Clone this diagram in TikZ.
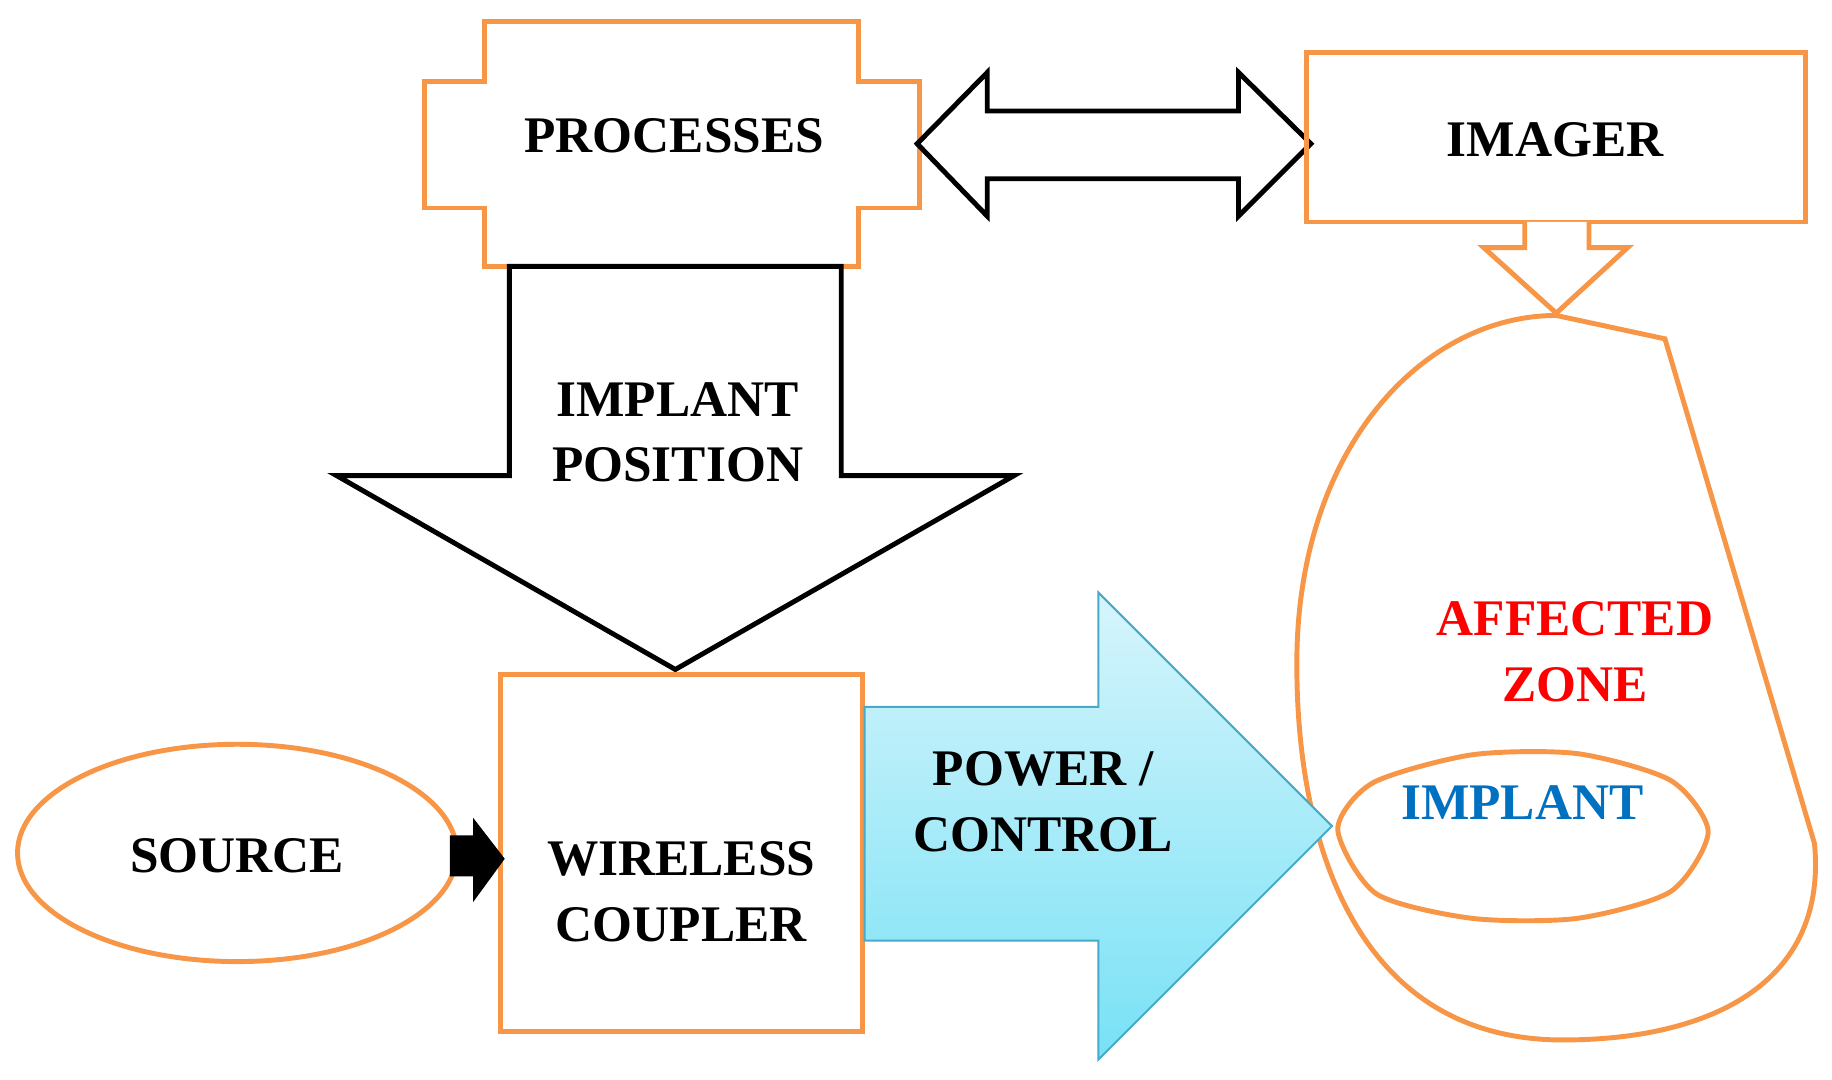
\documentclass[tikz,border=0pt]{standalone}
\usepackage{fontspec}
\setmainfont{Liberation Serif}
\begin{document}
\definecolor{org}{RGB}{247,150,70}
\definecolor{cyanA}{RGB}{215,245,252}
\definecolor{cyanB}{RGB}{120,225,245}
\begin{tikzpicture}[x=0.02cm,y=-0.02cm,
  ob/.style={draw=org,line width=2.4pt,line join=miter},
  bk/.style={draw=black,line width=2.4pt,fill=white,line join=miter},
  lbl/.style={font=\fontsize{25}{30}\selectfont\bfseries,align=center,inner sep=0pt}]
\useasboundingbox (0,0) rectangle (1568,924);
% processes
\draw[ob] (415,18)--(735,18)--(735,70)--(787,70)--(787,178)--(735,178)--(735,228)--(415,228)--(415,178)--(363,178)--(363,70)--(415,70)--cycle;
\node[lbl] (proc) at (577,116) {PROCESSES};
% double arrow
\draw[bk] (785,123)--(845,62)--(845,95)--(1060,95)--(1060,62)--(1122,123)--(1060,185)--(1060,153)--(845,153)--(845,185)--cycle;
% imager
\draw[ob] (1118,45) rectangle (1545,190);
\node[lbl] (img) at (1331,120) {IMAGER};
\draw[ob,fill=white] (1305,190)--(1305,212)--(1270,212)--(1332,268)--(1393,212)--(1360,212)--(1360,190);
% big down arrow
\draw[bk] (436,228)--(720,228)--(720,407)--(868,407)--(578,573)--(288,407)--(436,407)--cycle;
\node[lbl] (ip) at (580,370) {IMPLANT\\[2pt]POSITION};
% affected zone
\draw[ob] (1425,290) -- (1553,722) .. controls (1565,850) and (1450,892) .. (1330,890) .. controls (1160,885) and (1108,720) .. (1110,560) .. controls (1113,380) and (1220,270) .. (1332,270) -- cycle;
\node[lbl,text=red] (az) at (1348,558) {AFFECTED\\[2pt]ZONE};
% implant
\draw[ob] plot[smooth cycle,tension=0.45] coordinates {(1145,710) (1175,670) (1260,646) (1350,645) (1430,668) (1462,712) (1430,763) (1350,786) (1260,786) (1178,765)};
\node[lbl,text={rgb,255:red,0;green,112;blue,192}] (imp) at (1303,687) {IMPLANT};
% wireless coupler
\draw[ob] (428,577) rectangle (738,883);
\node[lbl] (wc) at (583,763) {WIRELESS\\[2pt]COUPLER};
% source
\draw[ob] (203,730) ellipse [x radius=188,y radius=93];
\node[lbl] (src) at (203,732) {SOURCE};
% small arrow
\fill (385,715)--(405,715)--(405,700)--(432,735)--(405,772)--(405,750)--(385,750)--cycle;
% power arrow
\draw[draw={rgb,255:red,70;green,170;blue,200},line width=1pt,top color=cyanA,bottom color=cyanB] (740,605)--(940,605)--(940,507)--(1140,707)--(940,907)--(940,805)--(740,805)--cycle;
\node[lbl] (pc) at (893,686) {POWER /\\[2pt]CONTROL};
\end{tikzpicture}
\end{document}
